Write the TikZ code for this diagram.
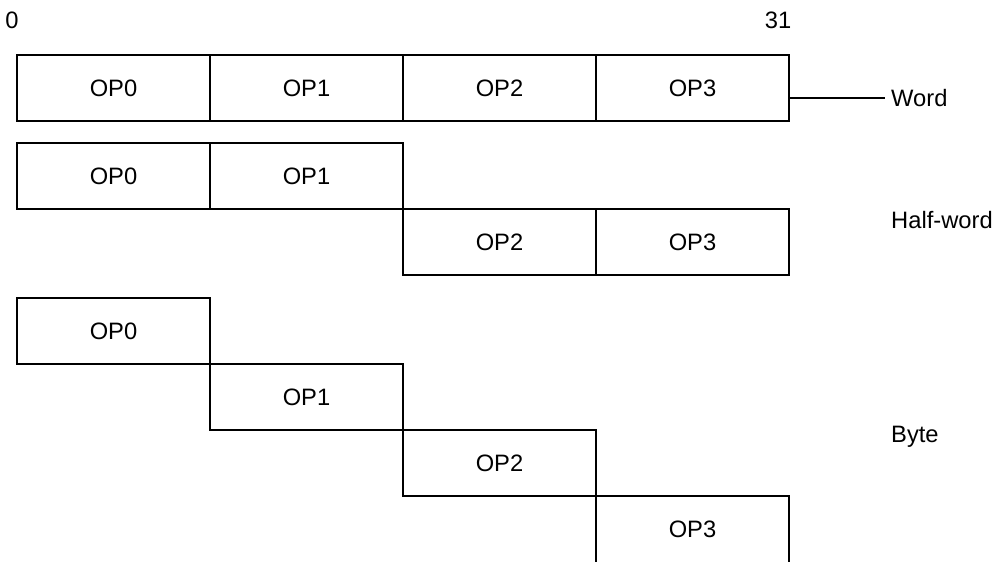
\documentclass[tikz,border=0pt]{standalone}
\usepackage{fontspec}
\setmainfont{Liberation Sans}
\usetikzlibrary{positioning}

\tikzset{
	cell/.style={draw, line width=1.1pt, minimum width=3.86cm, minimum height=1.32cm,
		inner sep=0pt, outer sep=0pt, font=\fontsize{13.5}{16}\selectfont},
	tag/.style={anchor=west, font=\fontsize{13.5}{16}\selectfont},
	bitno/.style={font=\fontsize{13.5}{16}\selectfont},
}

\begin{document}
\begin{tikzpicture}
	\useasboundingbox (0,0) rectangle (19.94,-11.22);
	
	\node[bitno] (lo) at (0.24,-0.4) {0};
	\node[bitno] (hi) at (15.56,-0.4) {31};
	
	% word
	\node[cell] (w0) at (2.27,-1.76) {OP0};
	\node[cell, right=0pt of w0] (w1) {OP1};
	\node[cell, right=0pt of w1] (w2) {OP2};
	\node[cell, right=0pt of w2] (w3) {OP3};
	
	% half-word
	\node[cell] (h0) at (2.27,-3.52) {OP0};
	\node[cell, right=0pt of h0] (h1) {OP1};
	\node[cell, below right=0pt of h1] (h2) {OP2};
	\node[cell, right=0pt of h2] (h3) {OP3};
	
	% byte
	\node[cell] (b0) at (2.27,-6.62) {OP0};
	\node[cell, below right=0pt of b0] (b1) {OP1};
	\node[cell, below right=0pt of b1] (b2) {OP2};
	\node[cell, draw=none, below right=0pt of b2] (b3) {OP3};
	\draw[line width=1.1pt] (b3.south west) -- (b3.north west) -- (b3.north east) -- (b3.south east);
	
	\node[tag] (word) at (17.7,-1.96) {Word};
	\node[tag] (half) at (17.7,-4.4) {Half-word};
	\node[tag] (byte) at (17.7,-8.74) {Byte};
	
	\draw[line width=1.1pt] (w3.east |- word.west) -- (word.west);
\end{tikzpicture}
\end{document}
